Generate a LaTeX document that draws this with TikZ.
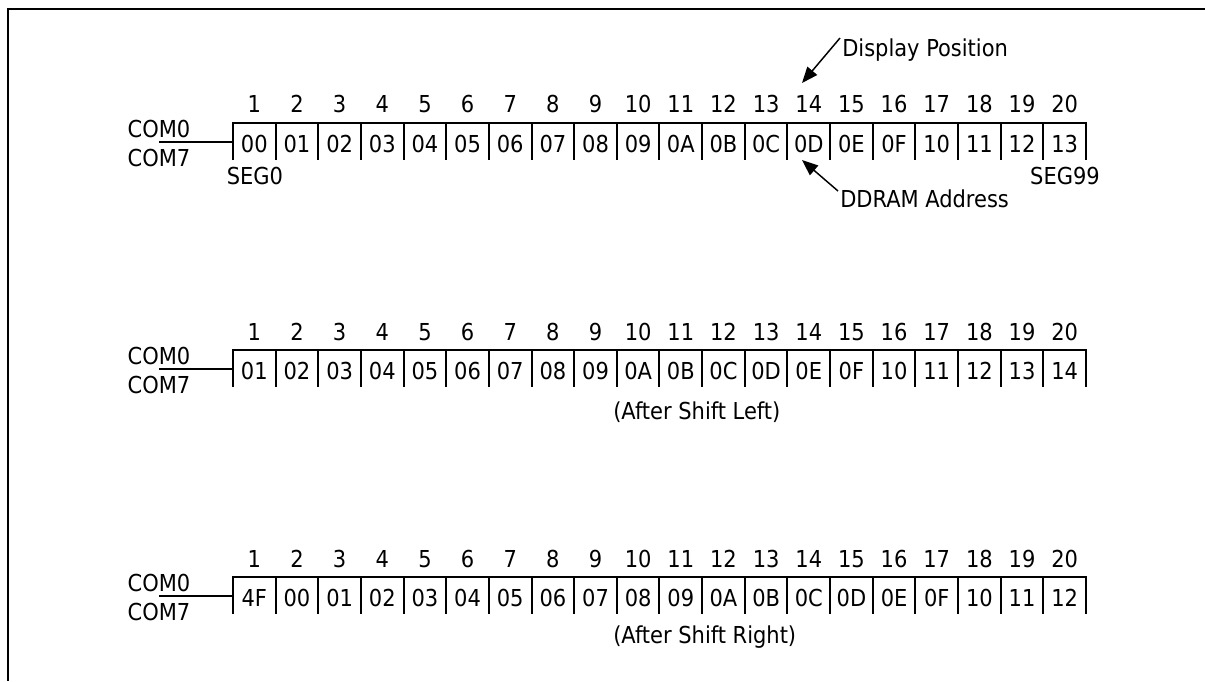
\documentclass[tikz,border=0pt]{standalone}
\usepackage{fontspec}
\setmainfont{DejaVu Sans Condensed}
\usetikzlibrary{arrows.meta}
\newcommand\ddrow[3]{% #1 name prefix, #2 top y, #3 values
  \foreach \v [count=\n] in {#3} {
    \node[lbl,anchor=base] (#1c\n) at ({233+(\n-0.5)*42.65},{#2+29}) {\v};
    \node[lbl,anchor=base] (#1n\n) at ({233+(\n-0.5)*42.65},{#2-10}) {\n};
  }
  \draw[cellline] (233,#2+37) -- (233,#2) -- (1086,#2) -- (1086,#2+37);
  \foreach \k in {1,...,19} \draw[cellline] ({233+round(\k*42.65)},#2) -- ++(0,37);
  \node[lbl,anchor=base] (#1com0) at (159,{#2+14.5}) {COM0};
  \node[lbl,anchor=base] (#1com7) at (159,{#2+43.5}) {COM7};
  \coordinate (#1s) at (159,{#2+19});
  \coordinate (#1L) at (233,{#2+19});
  \draw[comline] (#1s) -- (#1L);
}
\begin{document}
\begin{tikzpicture}[x=0.75pt,y=-0.75pt,
  lbl/.style={font=\fontsize{17.5}{20}\selectfont, inner sep=0pt},
  cellline/.style={line width=1.6pt},
  comline/.style={line width=1.1pt},
  frameline/.style={line width=1.8pt},
  pointer/.style={line width=1.1pt, -{Triangle[length=12pt,width=9.5pt]}}]
\useasboundingbox (0,0) rectangle (1205,681);
\draw[frameline] (1205,9) -- (8,9) -- (8,681);

\ddrow{a}{123}{00,01,02,03,04,05,06,07,08,09,0A,0B,0C,0D,0E,0F,10,11,12,13}
\ddrow{b}{350}{01,02,03,04,05,06,07,08,09,0A,0B,0C,0D,0E,0F,10,11,12,13,14}
\ddrow{c}{577}{4F,00,01,02,03,04,05,06,07,08,09,0A,0B,0C,0D,0E,0F,10,11,12}

\node[lbl,anchor=base] (seg0) at (255,185) {SEG0};
\node[lbl,anchor=base] (seg99) at (1065,185) {SEG99};

\node[lbl,anchor=base west] (disp) at (842,57) {Display Position};
\node[lbl,anchor=base west] (ddram) at (840,207) {DDRAM Address};
\coordinate (dispS) at (840,38);
\coordinate (dispT) at (802,83);
\coordinate (ddS) at (838,191);
\coordinate (ddT) at (802,160);
\draw[pointer] (dispS) -- (dispT);
\draw[pointer] (ddS) -- (ddT);

\node[lbl,anchor=base west] (left) at (613,419) {(After Shift Left)};
\node[lbl,anchor=base west] (right) at (613,643) {(After Shift Right)};
\end{tikzpicture}
\end{document}
